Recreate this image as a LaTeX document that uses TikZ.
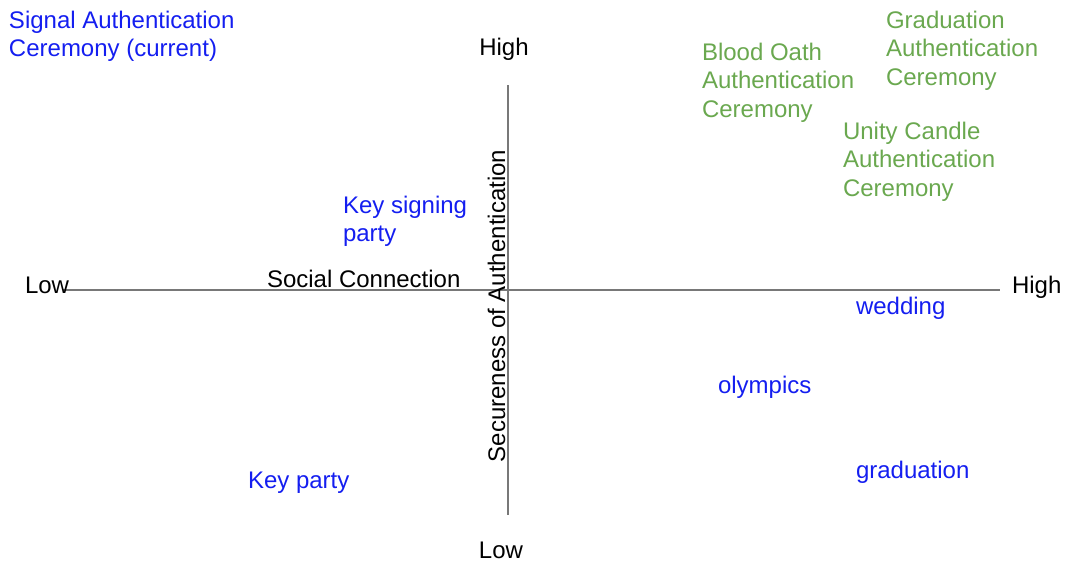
\documentclass[tikz,border=0pt]{standalone}
\usepackage{fontspec}
\setmainfont{Liberation Sans}
\definecolor{lblblue}{RGB}{20,30,240}
\definecolor{lblgreen}{RGB}{106,168,79}
\definecolor{axisgray}{RGB}{120,120,120}
\begin{document}
\begin{tikzpicture}[x=1pt,y=-1pt,
  lbl/.style={inner sep=0pt,outer sep=0pt,anchor=base west,align=left,
    font=\fontsize{24}{28.5}\selectfont},
  bluelbl/.style={lbl,text=lblblue},
  greenlbl/.style={lbl,text=lblgreen},
  axislbl/.style={lbl,text=black},
  axisline/.style={draw=axisgray,line width=1.2pt}]
\useasboundingbox (0,0) rectangle (1065,565);
% axes
\coordinate (xl) at (63,290);
\coordinate (xr) at (1000,290);
\coordinate (yt) at (508,85);
\coordinate (yb) at (508,515);
\draw[axisline] (xl) -- (xr);
\draw[axisline] (yt) -- (yb);
% axis labels
\node[axislbl,anchor=base] (hightop) at (504,55) {High};
\node[axislbl,anchor=base] (lowbot) at (501,558) {Low};
\node[axislbl] (lowleft) at (25,293) {Low};
\node[axislbl] (highright) at (1012,293) {High};
\node[axislbl] (social) at (267,287) {Social Connection};
\node[axislbl,anchor=base,rotate=90] (secure) at (505,306) {Secureness of Authentication};
% blue items (anchor = baseline of last line)
\node[bluelbl] (signal) at (9,56.5) {Signal Authentication\\Ceremony (current)};
\node[bluelbl] (keysign) at (343,241.5) {Key signing\\party};
\node[bluelbl] (wedding) at (856,314) {wedding};
\node[bluelbl] (olympics) at (718,393) {olympics};
\node[bluelbl] (graduation) at (856,478) {graduation};
\node[bluelbl] (keyparty) at (248,488) {Key party};
% green items
\node[greenlbl] (blood) at (702,117) {Blood Oath\\Authentication\\Ceremony};
\node[greenlbl] (gradcer) at (886,85) {Graduation\\Authentication\\Ceremony};
\node[greenlbl] (unity) at (843,196) {Unity Candle\\Authentication\\Ceremony};
\end{tikzpicture}
\end{document}
